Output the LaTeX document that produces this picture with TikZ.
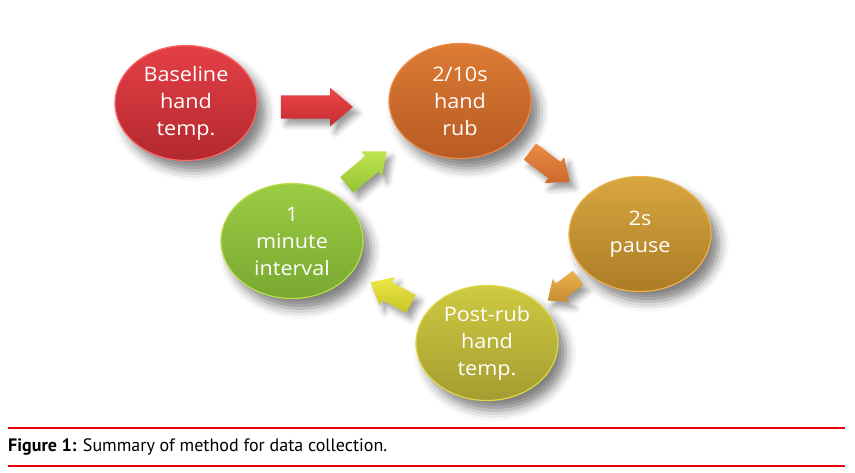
\documentclass[tikz,border=0pt]{standalone}
\usepackage{fontspec}
\setmainfont[FakeStretch=1.08]{Open Sans}
\newfontfamily\capfont{PT Sans}
\usetikzlibrary{shapes.geometric,shapes.arrows,shadows.blur}
\definecolor{capred}{HTML}{E8000B}
\tikzset{
  ball/.style={ellipse, minimum width=142pt, minimum height=115pt, inner sep=0pt,
    text=white, align=center, font=\fontsize{20}{27}\selectfont,
    blur shadow={shadow xshift=8pt, shadow yshift=-10pt, shadow blur radius=10pt, shadow opacity=50},
    line width=1.2pt},
  blockarrow/.style={single arrow, inner xsep=0pt, single arrow tip angle=80,
    blur shadow={shadow xshift=5pt, shadow yshift=-6pt, shadow blur radius=6pt, shadow opacity=40}},
  rule/.style={draw=capred, line width=2pt}
}
\begin{document}
\begin{tikzpicture}[x=1pt,y=-1pt]
\useasboundingbox (0,0) rectangle (855,472);
% circles
\node[ball, draw=red!60!white, top color={rgb,255:red,228;green,64;blue,70}, bottom color={rgb,255:red,178;green,40;blue,46}] (base) at (186,103) {Baseline\\hand\\temp.};
\node[ball, draw={rgb,255:red,236;green,140;blue,70}, top color={rgb,255:red,220;green,124;blue,52}, bottom color={rgb,255:red,184;green,90;blue,36}] (rub) at (460,101) {2/10s\\hand\\rub};
\node[ball, draw={rgb,255:red,232;green,180;blue,72}, top color={rgb,255:red,216;green,166;blue,64}, bottom color={rgb,255:red,172;green,124;blue,38}] (pause) at (640,234) {2s\\pause};
\node[ball, draw={rgb,255:red,222;green,218;blue,70}, top color={rgb,255:red,206;green,202;blue,66}, bottom color={rgb,255:red,164;green,156;blue,48}] (post) at (487,343) {Post-rub\\hand\\temp.};
\node[ball, draw={rgb,255:red,186;green,222;blue,72}, top color={rgb,255:red,156;green,204;blue,68}, bottom color={rgb,255:red,120;green,168;blue,48}] (min) at (292,241) {1\\minute\\interval};
% arrows
\node[blockarrow, inner ysep=11.5pt, single arrow head extend=7.5pt, minimum height=72pt, top color={rgb,255:red,238;green,70;blue,72}, bottom color={rgb,255:red,196;green,44;blue,48}] (a1) at (310,107) {};
\node[blockarrow, rotate=-37, inner ysep=10pt, single arrow head extend=6pt, minimum height=50pt, top color={rgb,255:red,236;green,140;blue,70}, bottom color={rgb,255:red,204;green,104;blue,44}] (a2) at (545,163) {};
\node[blockarrow, rotate=-143, inner ysep=8.5pt, single arrow head extend=5.5pt, minimum height=38pt, top color={rgb,255:red,234;green,180;blue,76}, bottom color={rgb,255:red,200;green,140;blue,48}] (a3) at (567,286) {};
\node[blockarrow, rotate=152, inner ysep=10pt, single arrow head extend=6pt, minimum height=46pt, top color={rgb,255:red,236;green,232;blue,70}, bottom color={rgb,255:red,200;green,196;blue,40}] (a4) at (396,296) {};
\node[blockarrow, rotate=40, inner ysep=10pt, single arrow head extend=6pt, minimum height=52pt, top color={rgb,255:red,190;green,228;blue,80}, bottom color={rgb,255:red,150;green,196;blue,52}] (a5) at (362,172) {};
% caption
\draw[rule] (8,428) -- (845,428);
\draw[rule] (8,466) -- (845,466);
\node[anchor=west, inner sep=0pt, font=\capfont\fontsize{18}{20}\selectfont] (cap) at (8,447) {\textbf{Figure 1:} Summary of method for data collection.};
\end{tikzpicture}
\end{document}
